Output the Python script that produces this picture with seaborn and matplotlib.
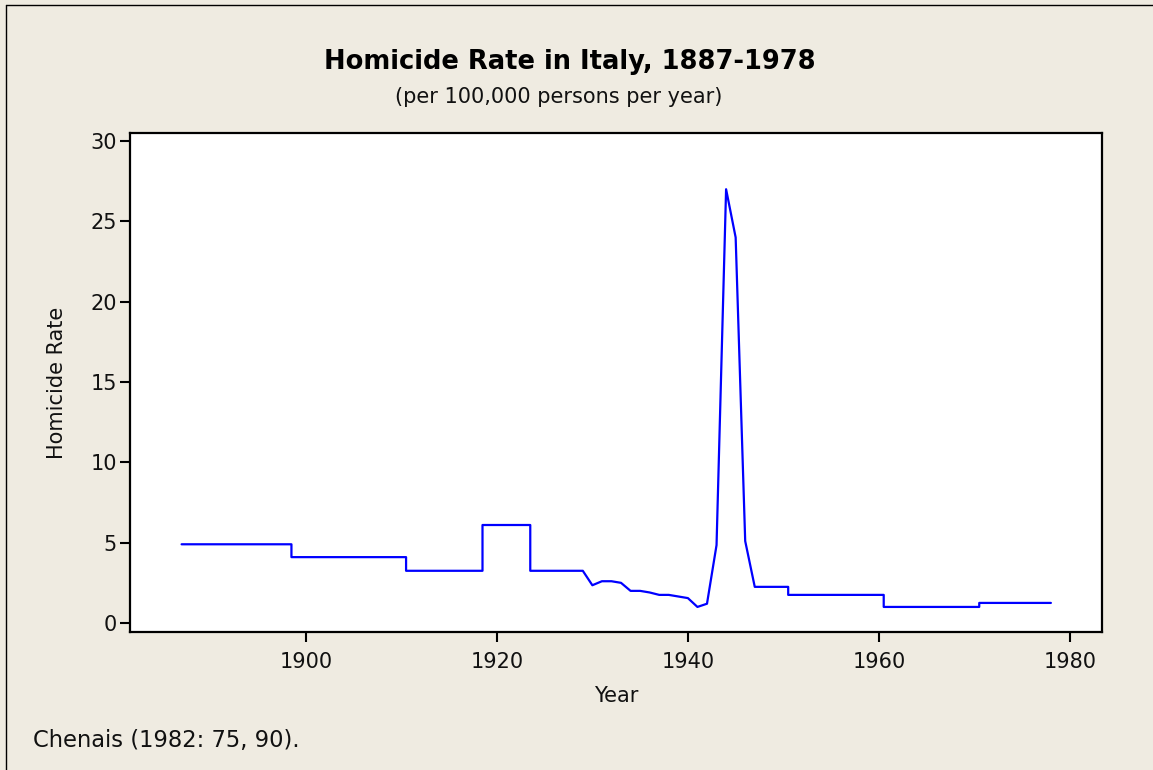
import matplotlib
matplotlib.use("Agg")
import matplotlib.pyplot as plt
import seaborn as sns
import pandas as pd
from matplotlib.lines import Line2D

# ---- data ----
early_start = [1887, 1898.5, 1910.5, 1918.5, 1923.5]
early_end = [1898.5, 1910.5, 1918.5, 1923.5, 1929]
early_rate = [4.9, 4.1, 3.25, 6.1, 3.25]

annual_years = [1930, 1931, 1932, 1933, 1934, 1935, 1936, 1937, 1938,
                1939, 1940, 1941, 1942, 1943, 1944, 1945, 1946]
annual_rate = [2.35, 2.6, 2.6, 2.5, 2.0, 2.0, 1.9, 1.75, 1.75,
               1.65, 1.55, 1.0, 1.2, 4.85, 27.0, 24.0, 5.1]

late_start = [1947, 1950.5, 1960.5, 1970.5]
late_end = [1950.5, 1960.5, 1970.5, 1978]
late_rate = [2.25, 1.75, 1.0, 1.25]

x_ticks = [1900, 1920, 1940, 1960, 1980]
y_ticks = [0, 5, 10, 15, 20, 25, 30]

title = "Homicide Rate in Italy, 1887-1978"
subtitle = "(per 100,000 persons per year)"
source = "Chenais (1982: 75, 90)."

# ---- build the line path ----
xs, ys = [], []
for s, e, v in zip(early_start, early_end, early_rate):
    xs += [s, e]
    ys += [v, v]
xs += annual_years
ys += annual_rate
for s, e, v in zip(late_start, late_end, late_rate):
    xs += [s, e]
    ys += [v, v]
df = pd.DataFrame({"Year": xs, "Homicide Rate": ys})

sns.set_theme(style="white")
plt.rcParams["font.family"] = ["DejaVu Sans"]

bg = "#EFEBE1"
fig = plt.figure(figsize=(11.53, 7.70), dpi=100, facecolor=bg)
ax = fig.add_axes([130 / 1153, 1 - 632 / 770, (1102 - 130) / 1153, (632 - 133) / 770])
ax.set_facecolor("white")

sns.lineplot(data=df, x="Year", y="Homicide Rate", sort=False, estimator=None,
             color="#0000FF", linewidth=1.6, ax=ax)

ax.set_xlim(1881.6, 1983.35)
ax.set_ylim(-0.56, 30.5)
ax.set_xticks(x_ticks)
ax.set_yticks(y_ticks)
for sp in ax.spines.values():
    sp.set_visible(True)
    sp.set_color("black")
    sp.set_linewidth(1.6)
ax.tick_params(axis="both", which="major", bottom=True, left=True, top=False, right=False,
               direction="out", length=7.5, width=1.5, color="black",
               labelsize=15, labelcolor="#111111")
ax.tick_params(axis="x", pad=7)
ax.tick_params(axis="y", pad=2)
ax.set_xlabel("Year", fontsize=15, color="#111111", labelpad=10)
ax.set_ylabel("Homicide Rate", fontsize=15, color="#111111", labelpad=17)

fig.text(570 / 1153, 1 - 62 / 770, title, ha="center", va="center",
         fontsize=18.5, fontweight="bold", color="black")
fig.text(559 / 1153, 1 - 97 / 770, subtitle, ha="center", va="center",
         fontsize=15, color="#111111")
fig.text(33 / 1153, 1 - 741 / 770, source, ha="left", va="center",
         fontsize=16.3, color="#111111")

# outer frame (left and top edges visible)
fig.add_artist(Line2D([6 / 1153, 6 / 1153], [0, 1 - 5 / 770], transform=fig.transFigure,
                      color="black", linewidth=1.0))
fig.add_artist(Line2D([6 / 1153, 1], [1 - 5 / 770, 1 - 5 / 770], transform=fig.transFigure,
                      color="black", linewidth=1.0))

fig.savefig("out.png", dpi=100, facecolor=bg)
